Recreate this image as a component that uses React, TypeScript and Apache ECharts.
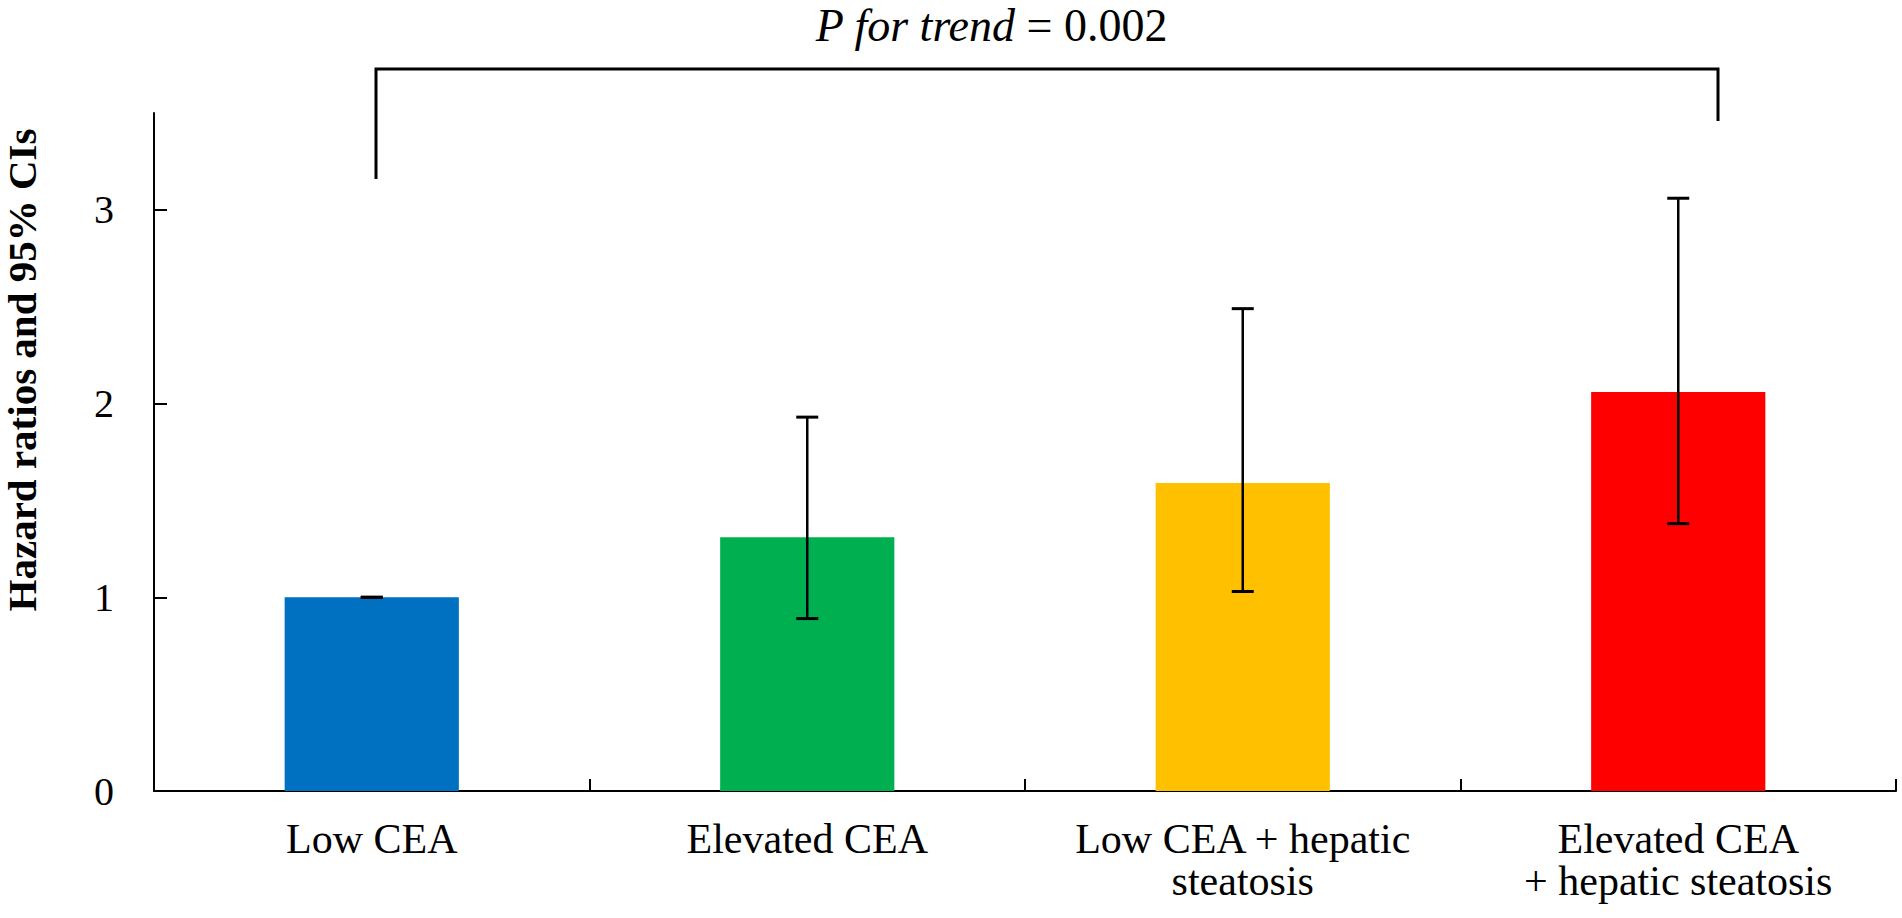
import React, { useEffect, useRef } from "react";
import * as echarts from "echarts";

const categories = [
  "Low CEA",
  "Elevated CEA",
  "Low CEA + hepatic\nsteatosis",
  "Elevated CEA\n+ hepatic steatosis",
];
const hazardRatios = [1.0, 1.31, 1.59, 2.06];
const ciLower = [1.0, 0.89, 1.03, 1.38];
const ciUpper = [1.0, 1.93, 2.49, 3.06];
const barColors = ["#0070C0", "#00B050", "#FFC000", "#FF0000"];
const yTicks = [0, 1, 2, 3];
const yAxisTitle = "Hazard ratios and 95% CIs";
const trendItalic = "P for trend";
const trendValue = "\u00a0= 0.002";

const FONT = "Liberation Serif";

export default function App() {
  const ref = useRef<HTMLDivElement>(null);

  useEffect(() => {
    document.body.style.margin = "0";
    if (!ref.current) return;
    const chart = echarts.init(ref.current, null, { renderer: "svg" });

    const errData = categories.map((_, i) => [i, ciLower[i], ciUpper[i]]);

    chart.setOption({
      animation: false,
      backgroundColor: "#ffffff",
      grid: { left: 154, right: 6, top: 113, bottom: 127, containLabel: false },
      xAxis: {
        type: "category",
        data: categories,
        boundaryGap: true,
        axisLine: { show: true, lineStyle: { color: "#000", width: 2 } },
        axisTick: { show: true, inside: true, length: 12, lineStyle: { color: "#000", width: 2 } },
        axisLabel: {
          color: "#000",
          fontFamily: FONT,
          fontSize: 42,
          lineHeight: 42,
          margin: 27,
          interval: 0,
        },
        splitLine: { show: false },
      },
      yAxis: {
        type: "value",
        min: 0,
        max: 3.5,
        interval: 1,
        axisLine: { show: true, lineStyle: { color: "#000", width: 2 } },
        axisTick: {
          show: true,
          inside: true,
          length: 13,
          lineStyle: { color: "#000", width: 2 },
          customValues: yTicks,
        },
        axisLabel: {
          color: "#000",
          fontFamily: FONT,
          fontSize: 40,
          margin: 40,
          customValues: yTicks,
        },
        splitLine: { show: false },
      },
      series: [
        {
          type: "bar",
          barWidth: "40%",
          data: hazardRatios.map((v, i) => ({ value: v, itemStyle: { color: barColors[i] } })),
          z: 2,
        },
        {
          type: "custom",
          z: 5,
          encode: { x: 0, y: [1, 2] },
          data: errData,
          renderItem: (params: any, api: any) => {
            const x = api.value(0);
            const lo = api.coord([x, api.value(1)]);
            const hi = api.coord([x, api.value(2)]);
            const half = 11;
            const style = { stroke: "#000", lineWidth: 2.5 };
            return {
              type: "group",
              children: [
                { type: "line", shape: { x1: hi[0], y1: hi[1], x2: lo[0], y2: lo[1] }, style },
                { type: "line", shape: { x1: hi[0] - half, y1: hi[1], x2: hi[0] + half, y2: hi[1] }, style: { stroke: "#000", lineWidth: 3 } },
                { type: "line", shape: { x1: lo[0] - half, y1: lo[1], x2: lo[0] + half, y2: lo[1] }, style: { stroke: "#000", lineWidth: 3 } },
              ],
            };
          },
        },
      ],
      graphic: [
        {
          type: "polyline",
          shape: { points: [[376, 179], [376, 69], [1718, 69], [1718, 121]] },
          style: { stroke: "#000", lineWidth: 3, fill: null },
          z: 10,
        },
        {
          type: "text",
          x: 1015,
          y: 25,
          style: {
            text: trendItalic,
            textAlign: "right",
            textVerticalAlign: "middle",
            fontFamily: FONT,
            fontStyle: "italic",
            fontSize: 46,
            fill: "#000",
          },
        },
        {
          type: "text",
          x: 1015,
          y: 25,
          style: {
            text: trendValue,
            textAlign: "left",
            textVerticalAlign: "middle",
            fontFamily: FONT,
            fontSize: 46,
            fill: "#000",
          },
        },
        {
          type: "text",
          x: 22,
          y: 370,
          rotation: Math.PI / 2,
          style: {
            text: yAxisTitle,
            textAlign: "center",
            textVerticalAlign: "middle",
            fontFamily: FONT,
            fontSize: 41,
            fontWeight: "bold",
            fill: "#000",
          },
        },
      ],
    });

    return () => chart.dispose();
  }, []);

  return <div ref={ref} style={{ width: 1902, height: 918 }} />;
}
